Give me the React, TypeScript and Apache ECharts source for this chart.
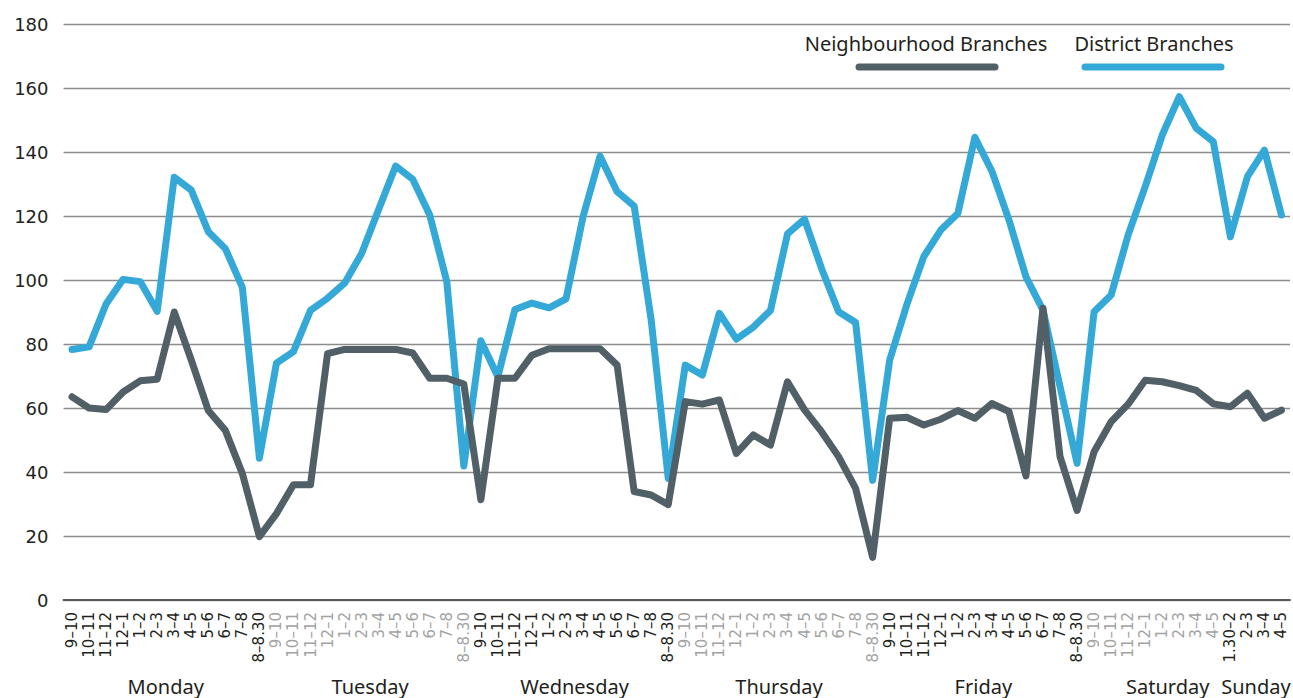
import React, { useEffect, useRef } from "react";
import * as echarts from "echarts";

const timeSlots: string[] = [
  "9–10","10–11","11–12","12–1","1–2","2–3","3–4","4–5","5–6","6–7","7–8","8–8.30",
  "9–10","10–11","11–12","12–1","1–2","2–3","3–4","4–5","5–6","6–7","7–8","8–8.30",
  "9–10","10–11","11–12","12–1","1–2","2–3","3–4","4–5","5–6","6–7","7–8","8–8.30",
  "9–10","10–11","11–12","12–1","1–2","2–3","3–4","4–5","5–6","6–7","7–8","8–8.30",
  "9–10","10–11","11–12","12–1","1–2","2–3","3–4","4–5","5–6","6–7","7–8","8–8.30",
  "9–10","10–11","11–12","12–1","1–2","2–3","3–4","4–5",
  "1.30–2","2–3","3–4","4–5",
];

const days: string[] = ["Monday", "Tuesday", "Wednesday", "Thursday", "Friday", "Saturday", "Sunday"];
const slotsPerDay: number[] = [12, 12, 12, 12, 12, 8, 4];

const neighbourhood: number[] = [
  63.5, 60, 59.5, 65, 68.5, 69, 90, 75, 59.2, 53, 39.5, 19.8,
  27, 36, 36, 77, 78.3, 78.3, 78.3, 78.3, 77.2, 69.3, 69.3, 67.5,
  31.3, 69.3, 69.3, 76.5, 78.5, 78.5, 78.5, 78.5, 73.4, 33.9, 32.8, 29.8,
  62, 61.2, 62.5, 45.8, 51.6, 48.4, 68.2, 59.4, 52.6, 44.8, 34.9, 13.3,
  56.8, 57.1, 54.7, 56.5, 59.2, 56.8, 61.4, 58.9, 38.8, 91.2, 44.8, 28,
  46.3, 55.7, 61.2, 68.7, 68.2, 67, 65.5, 61.3,
  60.4, 64.6, 56.8, 59.3,
];

const district: number[] = [
  78.3, 79.1, 92.5, 100.2, 99.5, 90.2, 132.1, 128.1, 115.1, 109.8, 97.7, 44.3,
  74, 77.6, 90.5, 94.3, 99, 108.3, 122, 135.6, 131.5, 120.3, 99.5, 41.9,
  81, 69.8, 90.8, 92.8, 91.3, 94.1, 119.8, 138.7, 127.6, 123.1, 87.5, 38,
  73.4, 70.3, 89.6, 81.5, 85.3, 90.5, 114.4, 119, 103.6, 90.1, 86.7, 37.4,
  75, 92.2, 107.3, 115.6, 120.8, 144.6, 134, 118.8, 101, 90.6, 66.7, 42.7,
  90.1, 95.3, 114.1, 129.2, 145.3, 157.3, 147.4, 143.2,
  113.5, 132.3, 140.6, 120.3,
];

const yTicks: number[] = [0, 20, 40, 60, 80, 100, 120, 140, 160, 180];
const seriesNames: string[] = ["Neighbourhood Branches", "District Branches"];

const DARK = "#515f67";
const BLUE = "#34a9d8";
const WORD_FONT = "'Noto Sans', 'Open Sans', sans-serif";
const NUM_FONT = "'DejaVu Sans', sans-serif";

export default function App() {
  const ref = useRef<HTMLDivElement>(null);

  useEffect(() => {
    if (!ref.current) return;
    const chart = echarts.init(ref.current, undefined, { renderer: "svg" });

    const labelColors: string[] = [];
    slotsPerDay.forEach((n, d) => {
      for (let k = 0; k < n; k++) labelColors.push(d % 2 === 0 ? "#231f20" : "#a3a3a3");
    });

    chart.setOption({
      animation: false,
      grid: { left: 63.5, right: 3, top: 24, bottom: 98, containLabel: false },
      xAxis: {
        type: "category",
        data: timeSlots.map((t, i) => ({ value: t, textStyle: { color: labelColors[i] } })),
        boundaryGap: true,
        axisLine: { lineStyle: { color: "#58595b", width: 2 } },
        axisTick: { alignWithLabel: true, inside: true, length: 5, lineStyle: { color: "#58595b", width: 1 } },
        axisLabel: {
          interval: 0,
          rotate: 90,
          fontSize: 15,
          fontFamily: NUM_FONT,
          margin: 12,
        },
        splitLine: { show: false },
      },
      yAxis: {
        type: "value",
        min: yTicks[0],
        max: yTicks[yTicks.length - 1],
        interval: 20,
        axisLine: { show: false },
        axisTick: { show: false },
        axisLabel: { fontSize: 18, color: "#231f20", fontFamily: NUM_FONT, margin: 15 },
        splitLine: { lineStyle: { color: "#8c8c8c", width: 1.3 } },
      },
      series: [
        {
          name: seriesNames[0],
          type: "line",
          data: neighbourhood,
          symbol: "none",
          lineStyle: { color: DARK, width: 7, cap: "round", join: "round" },
          z: 3,
        },
        {
          name: seriesNames[1],
          type: "line",
          data: district,
          symbol: "none",
          lineStyle: { color: BLUE, width: 7, cap: "round", join: "round" },
          z: 2,
        },
      ],
    });

    const graphics: any[] = [];
    let start = 0;
    days.forEach((d, i) => {
      const end = start + slotsPerDay[i] - 1;
      const x0 = chart.convertToPixel({ xAxisIndex: 0 }, start) as number;
      const x1 = chart.convertToPixel({ xAxisIndex: 0 }, end) as number;
      let cx = (x0 + x1) / 2;
      if (d === "Saturday") cx += 14;
      graphics.push({
        type: "text",
        x: cx,
        y: 686,
        style: {
          text: d,
          fontSize: 20,
          fontFamily: WORD_FONT,
          fill: "#231f20",
          align: "center",
          verticalAlign: "middle",
        },
      });
      start = end + 1;
    });

    const legendItems = [
      { name: seriesNames[0], color: DARK, cx: 926, x1: 859, x2: 995 },
      { name: seriesNames[1], color: BLUE, cx: 1154, x1: 1085, x2: 1221 },
    ];
    legendItems.forEach((it) => {
      graphics.push({
        type: "text",
        x: it.cx,
        y: 43,
        style: {
          text: it.name,
          fontSize: 20,
          fontFamily: WORD_FONT,
          fill: "#231f20",
          align: "center",
          verticalAlign: "middle",
        },
      });
      graphics.push({
        type: "line",
        shape: { x1: it.x1, y1: 67, x2: it.x2, y2: 67 },
        style: { stroke: it.color, lineWidth: 7, lineCap: "round" },
      });
    });

    chart.setOption({ graphic: graphics });

    return () => chart.dispose();
  }, []);

  return (
    <div
      ref={ref}
      style={{ position: "absolute", left: 0, top: 0, width: 1293, height: 698, background: "#fff" }}
    />
  );
}
